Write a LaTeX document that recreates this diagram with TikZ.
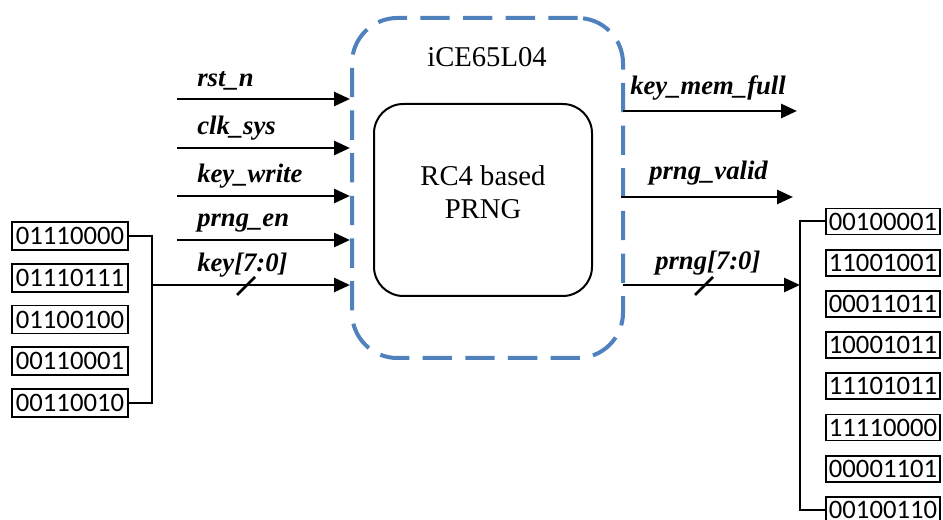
\documentclass[tikz,border=0pt]{standalone}
\usepackage{fontspec}
\setmainfont{Liberation Serif}
\newfontfamily\numfont{Carlito}
\usetikzlibrary{arrows.meta}
\definecolor{dashblue}{HTML}{4F81BD}
\begin{document}
\begin{tikzpicture}[x=0.75pt,y=-0.75pt,
  sig/.style={line width=2.1pt,-{Triangle[length=12pt,width=10.5pt]}},
  busline/.style={line width=1.5pt},
  slashmark/.style={line width=2pt},
  lbl/.style={font=\fontsize{20}{24}\selectfont\bfseries\itshape, anchor=base west, inner sep=0pt},
  serif/.style={font=\fontsize{21.5}{24.75}\selectfont},
  bitbox/.style={draw,line width=1.3pt,inner sep=0pt,minimum width=116*0.75pt,minimum height=28*0.75pt,font=\numfont\fontsize{20}{22}\selectfont},
  rbitbox/.style={bitbox,minimum width=114*0.75pt,minimum height=26*0.75pt},
]
\useasboundingbox (0,0) rectangle (943,520);

% FPGA dashed boundary
\node[draw=dashblue, line width=3pt, dash pattern=on 22pt off 10pt, rounded corners=34pt,
      minimum width=271*0.75pt, minimum height=340*0.75pt, inner sep=0pt] (fpga) at (487.5,188) {};
\node[serif, anchor=base, inner sep=0pt] (title) at (487,67) {iCE65L04};

% core
\node[draw, line width=1.5pt, rounded corners=22pt, minimum width=218*0.75pt,
      minimum height=192*0.75pt, inner sep=0pt] (core) at (483,200) {};
\node[serif, align=center, inner sep=0pt] (coretxt) at (483,192) {RC4 based\\PRNG};

% left inputs
\coordinate (rsta) at (177,99);  \coordinate (rstb) at (350,99);
\coordinate (clka) at (177,148); \coordinate (clkb) at (350,148);
\coordinate (kwa)  at (177,196); \coordinate (kwb)  at (350,196);
\coordinate (pena) at (177,240); \coordinate (penb) at (350,240);
\coordinate (keyb) at (350,285);
\draw[sig] (rsta) -- (rstb);
\draw[sig] (clka) -- (clkb);
\draw[sig] (kwa) -- (kwb);
\draw[sig] (pena) -- (penb);
\node[lbl] (rstl) at (197,87) {rst\_n};
\node[lbl] (clkl) at (197,135) {clk\_sys};
\node[lbl] (kwl)  at (197,183) {key\_write};
\node[lbl] (penl) at (197,227) {prng\_en};
\node[lbl] (keyl) at (197,272) {key[7:0]};
\coordinate (ks1) at (237,295); \coordinate (ks2) at (255,277);
\draw[slashmark] (ks1) -- (ks2);

% left key bytes
\foreach \t [count=\i from 0] in {01110000,01110111,01100100,00110001,00110010}
  \node[bitbox] (lb\i) at (70,{236+41.75*\i}) {\t};
\coordinate (lbr) at (152,285);
\draw[busline] (lb0.east) -| (lbr) |- (lb4.east);
\draw[sig] (lbr) -- (keyb);

% right outputs
\coordinate (kmfa) at (623,111); \coordinate (kmfb) at (797,111);
\coordinate (pva)  at (621,197); \coordinate (pvb)  at (793,197);
\coordinate (pra)  at (623,285); \coordinate (rbr)  at (800,285);
\draw[sig] (kmfa) -- (kmfb);
\draw[sig] (pva) -- (pvb);
\node[lbl] (kmfl) at (630,95) {key\_mem\_full};
\node[lbl] (pvl)  at (649,180) {prng\_valid};
\node[lbl] (prl)  at (655,270) {prng[7:0]};
\coordinate (ps1) at (695,295); \coordinate (ps2) at (713,277);
\draw[slashmark] (ps1) -- (ps2);

% right prng bytes
\foreach \t [count=\i from 0] in {00100001,11001001,00011011,10001011,11101011,11110000,00001101,00100110}
  \node[rbitbox] (rb\i) at (883,{221.5+41.2*\i}) {\t};
\draw[busline] (rb0.west) -| (rbr) |- (rb7.west);
\draw[sig] (pra) -- (rbr);
\end{tikzpicture}
\end{document}
